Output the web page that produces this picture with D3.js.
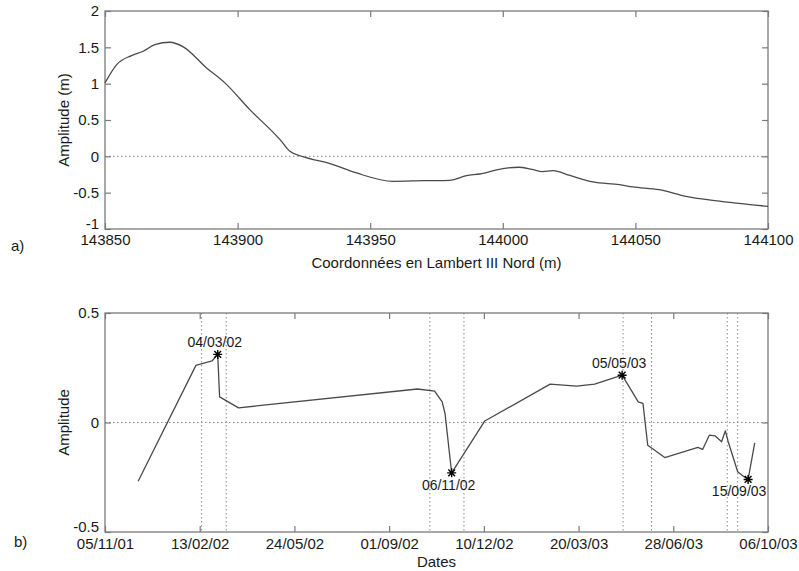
<!DOCTYPE html>
<html>
<head>
<meta charset="utf-8">
<script src="https://cdn.jsdelivr.net/npm/d3@7"></script>
<style>
  html, body { margin: 0; padding: 0; background: #fff; }
  text { font-family: "Liberation Sans", Arial, sans-serif; fill: #1a1a1a; }
</style>
</head>
<body>
<svg id="chart" width="799" height="571"></svg>
<script>
// ---------- Data: panel a) ----------
const profileX = [143850, 143854.4, 143860, 143864.4, 143868.8, 143874.5, 143879.5, 143888.3,
  143895.2, 143904.6, 143916, 143919.7, 143924.7, 143934.8, 143944.8, 143958.6, 143970,
  143980, 143986.3, 143991.3, 144000, 144006, 144011, 144015, 144019, 144025, 144034,
  144044, 144049, 144059, 144069, 144080, 144088, 144100];
const profileAmp = [1.01, 1.263, 1.387, 1.446, 1.538, 1.57, 1.507, 1.217,
  1.011, 0.643, 0.23, 0.069, -0.005, -0.1, -0.229, -0.344, -0.335,
  -0.33, -0.266, -0.243, -0.169, -0.15, -0.18, -0.21, -0.197, -0.26, -0.353,
  -0.39, -0.42, -0.459, -0.551, -0.61, -0.645, -0.689];
const xTicksA = [143850, 143900, 143950, 144000, 144050, 144100];
const yTicksA = [-1, -0.5, 0, 0.5, 1, 1.5, 2];

// ---------- Data: panel b) ----------
const seriesDates = ["10/12/01", "09/02/02", "26/02/02", "04/03/02", "06/03/02", "26/03/02",
  "01/10/02", "19/10/02", "27/10/02", "30/10/02", "06/11/02", "11/12/02", "18/02/03",
  "18/03/03", "06/04/03", "05/05/03", "22/05/03", "27/05/03", "01/06/03", "19/06/03",
  "24/07/03", "29/07/03", "05/08/03", "11/08/03", "18/08/03", "22/08/03", "25/08/03",
  "04/09/03", "10/09/03", "15/09/03", "22/09/03"];
const seriesAmp = [-0.268, 0.261, 0.281, 0.311, 0.117, 0.067,
  0.153, 0.143, 0.094, 0.041, -0.23, 0.007, 0.175,
  0.166, 0.175, 0.216, 0.094, 0.087, -0.104, -0.16,
  -0.114, -0.123, -0.058, -0.061, -0.088, -0.038, -0.088,
  -0.225, -0.245, -0.26, -0.093];
const starDates = ["04/03/02", "06/11/02", "05/05/03", "15/09/03"];
const starSide = ["above", "below", "above", "below-left"];
const eventLines = ["15/02/02", "13/03/02", "14/10/02", "19/11/02", "06/05/03", "05/06/03",
  "24/08/03", "04/09/03"];
const xTickLabelsB = ["05/11/01", "13/02/02", "24/05/02", "01/09/02", "10/12/02", "20/03/03",
  "28/06/03", "06/10/03"];
const yTicksB = [-0.5, 0, 0.5];

// ---------- Drawing ----------
const svg = d3.select("#chart");
const parse = d3.timeParse("%d/%m/%y");
const frameColor = "#7a7a7a";
const lineColor = "#4a4a4a";
const left = 105, right = 768;

function frameAndTicks(g, x, y, xTicks, yTicks, xFmt, yFmt, top, bottom, xPad) {
  // dotted zero line
  g.append("line")
    .attr("x1", left).attr("x2", right)
    .attr("y1", y(0)).attr("y2", y(0))
    .attr("stroke", "#8a8a8a").attr("stroke-width", 1)
    .attr("stroke-dasharray", "1.5,2.5");
  const axB = g.append("g").attr("transform", `translate(0,${bottom})`)
    .call(d3.axisBottom(x).tickValues(xTicks).tickFormat(xFmt).tickSizeInner(-6).tickSizeOuter(0).tickPadding(xPad));
  const axT = g.append("g").attr("transform", `translate(0,${top})`)
    .call(d3.axisTop(x).tickValues(xTicks).tickFormat("").tickSizeInner(-6).tickSizeOuter(0));
  const axL = g.append("g").attr("transform", `translate(${left},0)`)
    .call(d3.axisLeft(y).tickValues(yTicks).tickFormat(yFmt).tickSizeInner(-6).tickSizeOuter(0).tickPadding(6));
  const axR = g.append("g").attr("transform", `translate(${right},0)`)
    .call(d3.axisRight(y).tickValues(yTicks).tickFormat("").tickSizeInner(-6).tickSizeOuter(0));
  [axB, axT, axL, axR].forEach(a => {
    a.select(".domain").remove();
    a.selectAll(".tick line").attr("stroke", frameColor).attr("stroke-width", 1.2);
    a.selectAll(".tick text").attr("font-size", 15).attr("fill", "#1a1a1a")
      .attr("font-family", '"Liberation Sans", Arial, sans-serif');
  });
  // lowest y label sits slightly above its tick so it clears the x labels
  axL.selectAll(".tick text").filter(d => d === yTicks[0]).attr("dy", "-0.05em");
  g.append("rect")
    .attr("x", left).attr("y", top)
    .attr("width", right - left).attr("height", bottom - top)
    .attr("fill", "none").attr("stroke", frameColor).attr("stroke-width", 1.3);
}

// Panel a)
{
  const top = 11, bottom = 229;
  const x = d3.scaleLinear().domain([143850, 144100]).range([left, right]);
  const y = d3.scaleLinear().domain([-1, 2]).range([bottom, top]);
  const g = svg.append("g");
  frameAndTicks(g, x, y, xTicksA, yTicksA, d3.format("d"), d => String(d), top, bottom, 5);
  const pts = profileX.map((v, i) => [v, profileAmp[i]]);
  g.append("path").datum(pts)
    .attr("fill", "none").attr("stroke", lineColor).attr("stroke-width", 1.3)
    .attr("stroke-linejoin", "round")
    .attr("d", d3.line().x(d => x(d[0])).y(d => y(d[1])).curve(d3.curveMonotoneX));
  g.append("text").attr("x", (left + right) / 2).attr("y", 268)
    .attr("text-anchor", "middle").attr("font-size", 15)
    .text("Coordonnées en Lambert III Nord (m)");
  g.append("text").attr("transform", `translate(69,${(top + bottom) / 2}) rotate(-90)`)
    .attr("text-anchor", "middle").attr("font-size", 15)
    .text("Amplitude (m)");
  g.append("text").attr("x", 11).attr("y", 251).attr("font-size", 15).text("a)");
}

// Panel b)
{
  const top = 313, bottom = 532;
  const tickDates = xTickLabelsB.map(parse);
  const x = d3.scaleTime().domain([tickDates[0], tickDates[tickDates.length - 1]]).range([left, right]);
  const y = d3.scaleLinear().domain([-0.5, 0.5]).range([bottom, top]);
  const g = svg.append("g");
  // event (dotted vertical) lines
  g.selectAll("line.ev").data(eventLines.map(parse)).join("line")
    .attr("class", "ev")
    .attr("x1", d => x(d)).attr("x2", d => x(d))
    .attr("y1", top).attr("y2", bottom)
    .attr("stroke", "#8a8a8a").attr("stroke-width", 1)
    .attr("stroke-dasharray", "1.5,2.5");
  frameAndTicks(g, x, y, tickDates, yTicksB, d3.timeFormat("%d/%m/%y"), d => String(d), top, bottom, 6);
  const pts = seriesDates.map((d, i) => [parse(d), seriesAmp[i]]);
  g.append("path").datum(pts)
    .attr("fill", "none").attr("stroke", lineColor).attr("stroke-width", 1.3)
    .attr("stroke-linejoin", "round")
    .attr("d", d3.line().x(d => x(d[0])).y(d => y(d[1])));
  // stars
  const stars = starDates.map((s, i) => {
    const idx = seriesDates.indexOf(s);
    return { label: s, date: parse(s), v: seriesAmp[idx], side: starSide[i] };
  });
  const r = 4.5;
  const starPath = `M${-r},0L${r},0M0,${-r}L0,${r}M${-r * 0.75},${-r * 0.75}L${r * 0.75},${r * 0.75}M${-r * 0.75},${r * 0.75}L${r * 0.75},${-r * 0.75}`;
  g.selectAll("path.star").data(stars).join("path")
    .attr("class", "star")
    .attr("transform", d => `translate(${x(d.date)},${y(d.v)})`)
    .attr("d", starPath)
    .attr("stroke", "#000").attr("stroke-width", 1.4).attr("fill", "none");
  g.selectAll("text.lab").data(stars).join("text")
    .attr("class", "lab")
    .attr("x", d => x(d.date) + (d.side === "below-left" ? -9 : -3))
    .attr("y", d => y(d.v) + (d.side === "above" ? -7 : 17))
    .attr("text-anchor", "middle").attr("font-size", 14)
    .text(d => d.label);
  g.append("text").attr("x", (left + right) / 2).attr("y", 567)
    .attr("text-anchor", "middle").attr("font-size", 15).text("Dates");
  g.append("text").attr("transform", `translate(69,${(top + bottom) / 2}) rotate(-90)`)
    .attr("text-anchor", "middle").attr("font-size", 15).text("Amplitude");
  g.append("text").attr("x", 14).attr("y", 547).attr("font-size", 15).text("b)");
}
</script>
</body>
</html>
